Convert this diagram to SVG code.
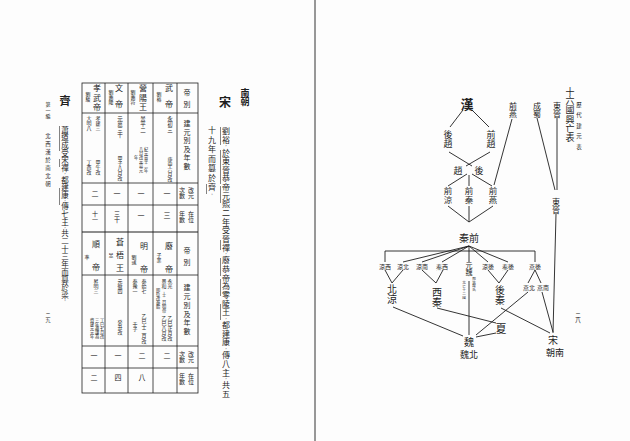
<svg xmlns="http://www.w3.org/2000/svg" width="630" height="441" viewBox="0 0 630 441">
<style>
text{font-family:"Noto Sans CJK TC","Noto Sans CJK SC",sans-serif;fill:#1e1e1e}
.v{writing-mode:vertical-rl}
.h{dominant-baseline:central;text-anchor:middle}
.b{font-weight:bold}
.p{font-size:3.5px}
.ln{stroke:#1e1e1e;stroke-width:0.9;fill:none}
.tb{stroke:#1e1e1e;stroke-width:0.8;fill:none}
.mk{stroke:#1e1e1e;stroke-width:0.55;fill:none}
.f4{font-size:4.2px}.f5{font-size:5px}.f55{font-size:5.5px}.f6{font-size:6px}.f7{font-size:7px}.f8{font-size:8px}.f9{font-size:9px}.f10{font-size:10px}.f11{font-size:11px}
</style>
<rect width="630" height="441" fill="#fdfdfd"/>
<line x1="315" y1="0" x2="315" y2="441" stroke="#333" stroke-width="1"/>

<!-- LEFT PAGE -->
<g id="left-margin">
<text class="v f5" x="48" y="102" letter-spacing="1">第一編</text>
<text class="v f55" x="48" y="133" letter-spacing="2.5">北西漢於南北朝</text>
<text class="v f5" x="48" y="313">二九</text>
</g>
<g id="qi-text">
<text class="v f11 b" x="65" y="95">齊</text>
<text class="v" x="65" y="126" font-size="7.5" letter-spacing="0.2">蕭道成受宋禪<tspan class="p">，</tspan>都建康<tspan class="p">，</tspan>傳七主<tspan class="p">，</tspan>共二十三年而篡於梁<tspan class="p">。</tspan></text>
<path class="mk" d="M59.5 126V151M59.5 159V167M59.5 188V205"/>
</g>

<g id="table">
<rect class="tb" x="82" y="83" width="116" height="310" stroke-width="1.2"/>
<path class="tb" d="M105 83V393M128 83V393M153 83V393M177 83V393"/>
<path class="tb" d="M82 113H198M82 183H198M82 205H198M82 275H198M82 346H198M82 368H198"/>
<line x1="82" y1="232" x2="198" y2="232" stroke="#1e1e1e" stroke-width="1.2"/>
<!-- header column -->
<text class="v f7" x="187" y="89" letter-spacing="5">帝別</text>
<text class="v f7" x="187" y="120" letter-spacing="1.5">建元別及年數</text>
<text class="v f6" x="191" y="187">改元</text><text class="v f6" x="182" y="187">次數</text>
<text class="v f6" x="191" y="211">在位</text><text class="v f6" x="182" y="211">年數</text>
<text class="v f7" x="187" y="247" letter-spacing="5">帝別</text>
<text class="v f7" x="187" y="284" letter-spacing="1.8">建元別及年數</text>
<text class="v f6" x="191" y="351">改元</text><text class="v f6" x="182" y="351">次數</text>
<text class="v f6" x="191" y="373">在位</text><text class="v f6" x="182" y="373">年數</text>
<!-- top half -->
<text class="v f8" x="169" y="84" letter-spacing="8">武帝</text>
<text class="v f5" x="159" y="92">劉裕</text>
<text class="v f55" x="170" y="116">永初三</text>
<text class="v f5" x="170" y="157">庚申六月改</text>
<text class="v f7" x="167" y="190">一</text>
<text class="v f7" x="167" y="212">三</text>

<text class="v f8" x="143" y="84" letter-spacing="1.5">營陽王</text>
<text class="v f5" x="133" y="90">劉義符</text>
<text class="v f55" x="143" y="116">景平二</text>
<text class="v f4" x="146" y="147">紀元景平二年</text>
<text class="v f4" x="141" y="147">八月改元嘉元</text>
<text class="v f4" x="136" y="155">年</text>
<text class="v f7" x="141" y="190">一</text>
<text class="v f7" x="141" y="212">一</text>

<text class="v f8" x="119" y="84" letter-spacing="8">文帝</text>
<text class="v f5" x="111" y="90">劉義隆</text>
<text class="v f55" x="120" y="116">元嘉三十</text>
<text class="v f5" x="120" y="156">甲子八月改</text>
<text class="v f7" x="117" y="190">一</text>
<text class="v f6" x="117" y="211">三十</text>

<text class="v f8" x="97" y="84" letter-spacing="1.5">孝武帝</text>
<text class="v f5" x="88" y="92">劉駿</text>
<text class="v f5" x="98" y="116">孝建三</text>
<text class="v f5" x="89" y="116">大明八</text>
<text class="v f5" x="98" y="160">甲午改</text>
<text class="v f5" x="89" y="160">丁酉改</text>
<text class="v f7" x="95" y="190">二</text>
<text class="v f6" x="95" y="211">十一</text>
<!-- bottom half -->
<text class="v f8" x="169" y="242" letter-spacing="15">廢帝</text>
<text class="v f5" x="159" y="253">子業</text>
<text class="v f5" x="170" y="279">永光</text>
<text class="v f5" x="170" y="316">乙巳正月改</text>
<text class="v f5" x="164" y="279">景和</text>
<text class="v f4" x="164" y="292">十二月明帝</text>
<text class="v f5" x="164" y="316">乙巳八月改</text>
<text class="v f4" x="158" y="288">即位改泰始</text>
<text class="v f7" x="167" y="352">二</text>

<text class="v f8" x="144" y="242" letter-spacing="15">明帝</text>
<text class="v f5" x="134" y="255">劉彧</text>
<text class="v f5" x="144" y="279">泰始七</text>
<text class="v f5" x="135" y="279">泰豫一</text>
<text class="v f5" x="144" y="314">乙巳十二月改</text>
<text class="v f5" x="135" y="322">壬子</text>
<text class="v f7" x="142" y="352">二</text>
<text class="v f7" x="142" y="374">八</text>

<text class="v f8" x="120" y="238" letter-spacing="5">蒼梧王</text>
<text class="v f5" x="111" y="253">昱</text>
<text class="v f5" x="120" y="279">元徽四</text>
<text class="v f5" x="120" y="320">癸丑改</text>
<text class="v f7" x="118" y="352">一</text>
<text class="v f7" x="118" y="374">四</text>

<text class="v f8" x="96" y="240" letter-spacing="15">順帝</text>
<text class="v f5" x="87" y="255">準</text>
<text class="v f5" x="96" y="279">昇明三</text>
<text class="v f4" x="102" y="318">丁巳七月改</text>
<text class="v f4" x="97" y="318">三年禪讓為</text>
<text class="v f4" x="92" y="318">齊建元元年</text>
<text class="v f7" x="94" y="352">一</text>
<text class="v f7" x="94" y="374">二</text>
</g>

<g id="song-text">
<text class="v b" x="225" y="96" font-size="12">宋</text>
<text class="v f9 b" x="245" y="88">南朝</text>
<text class="v f8" x="226" y="127" letter-spacing="0.65">劉裕<tspan class="p">，</tspan>於東晉恭帝元熙二年受晉禪<tspan class="p">，</tspan>廢恭帝為零陵王<tspan class="p">，</tspan>都建康<tspan class="p">，</tspan>傳八主<tspan class="p">，</tspan>共五</text>
<text class="v f8" x="212" y="126" letter-spacing="1.5">十九年而篡於齊<tspan class="p">。</tspan></text>
<path class="mk" d="M220.5 127V145M220.5 150V184M220.5 186V203M220.5 240V250M220.5 258V276M220.5 279V296M220.5 304V320"/>
<path class="mk" d="M206.5 184V194"/>
</g>

<!-- RIGHT PAGE -->
<g id="title">
<text class="v f9" x="570" y="87" letter-spacing="0.2">十六國興亡表</text>
<text class="v f55" x="579" y="102" letter-spacing="5">歷代建元表</text>
<text class="v f55" x="578" y="312">二八</text>
</g>

<g id="connectors">
<path class="ln" d="M463 110L450 127M472 110L489 127"/>
<path class="ln" d="M449 152L472 166M490 152L466 166"/>
<path class="ln" d="M512 119L494 185"/>
<path class="ln" d="M467 174L448 186M469 175L469 186M472 174L492 186"/>
<path class="ln" d="M448 206L469 222M469 206L469 222M493 206L469 222"/>
<path class="ln" d="M385 262V251H535V262"/>
<path class="ln" d="M469 246L403 262M469 246L422 262M469 246L442 262M469 246L488 262M469 246L508 262"/>
<path class="ln" d="M469 246V262M469 281V335"/>
<path class="ln" d="M385 270L392 283L403 270"/>
<path class="ln" d="M422 270L436 283L443 270"/>
<path class="ln" d="M488 270L499 283L508 270"/>
<path class="ln" d="M528 283L535 270L541 283"/>
<path class="ln" d="M393 307L463 336"/>
<path class="ln" d="M437 308L496 323"/>
<path class="ln" d="M496 333L476 337"/>
<path class="ln" d="M528 292L476 335"/>
<path class="ln" d="M501 308L550 333"/>
<path class="ln" d="M542 292L553 332"/>
<path class="ln" d="M557 118V190M537 118L555 190"/>
<path class="ln" d="M556 214L553 333"/>
</g>

<g id="han"><text class="h b" x="467" y="103" font-size="13">漢</text></g>
<g id="qianyan-top"><text class="v f8" x="513" y="102">前燕</text></g>
<g id="chengshu"><text class="v f8" x="537" y="102">成蜀</text></g>
<g id="dongjin-top"><text class="v f8" x="557" y="102">東晉</text></g>
<g id="houzhao"><text class="v f9" x="448" y="130">後趙</text></g>
<g id="qianzhao"><text class="v f9" x="491" y="130">前趙</text></g>
<g id="houzhao-2"><text class="h f9" x="458 479" y="170">趙後</text></g>
<g id="qianliang"><text class="v" font-size="8.5" x="448" y="187">前涼</text></g>
<g id="qianqin"><text class="v" font-size="8.5" x="469" y="187">前秦</text></g>
<g id="qianyan"><text class="v" font-size="8.5" x="493" y="187">前燕</text></g>
<g id="qianqin-2"><text class="h f10" x="469" y="237">秦前</text></g>
<g id="dongjin"><text class="v f8" x="556" y="198">東晉</text></g>

<g id="small-states">
<text class="h f6" x="385" y="266">涼西</text>
<text class="h f6" x="403" y="266">涼北</text>
<text class="h f6" x="422" y="266">涼南</text>
<text class="h f6" x="442" y="266">秦西</text>
<text class="h f6" x="488" y="266">涼後</text>
<text class="h f6" x="508" y="266">秦後</text>
<text class="h f6" x="535" y="266">燕後</text>
<text class="h f6" x="529" y="287">燕北</text>
<text class="h f6" x="543" y="287">燕南</text>
</g>
<g id="yuanwei">
<text class="v f7" x="469" y="262">元魏</text>
<text class="v" font-size="3.6" x="474" y="277">即拓跋氏</text>
<text class="v" font-size="3.6" x="464" y="281">北亡十二國</text>
</g>
<g id="beiliang"><text class="v f10" x="392" y="284">北涼</text></g>
<g id="xiqin"><text class="v f10" x="437" y="287">西秦</text></g>
<g id="houqin"><text class="v f10" x="500" y="285">後秦</text></g>
<g id="xia"><text class="h f11" x="501" y="328">夏</text></g>
<g id="beiwei"><text class="h f10" x="469" y="341">魏</text><text class="h f9" x="469" y="354">魏北</text></g>
<g id="nanchao"><text class="h f10" x="553" y="339">宋</text><text class="h f9" x="555" y="352">朝南</text></g>
</svg>
